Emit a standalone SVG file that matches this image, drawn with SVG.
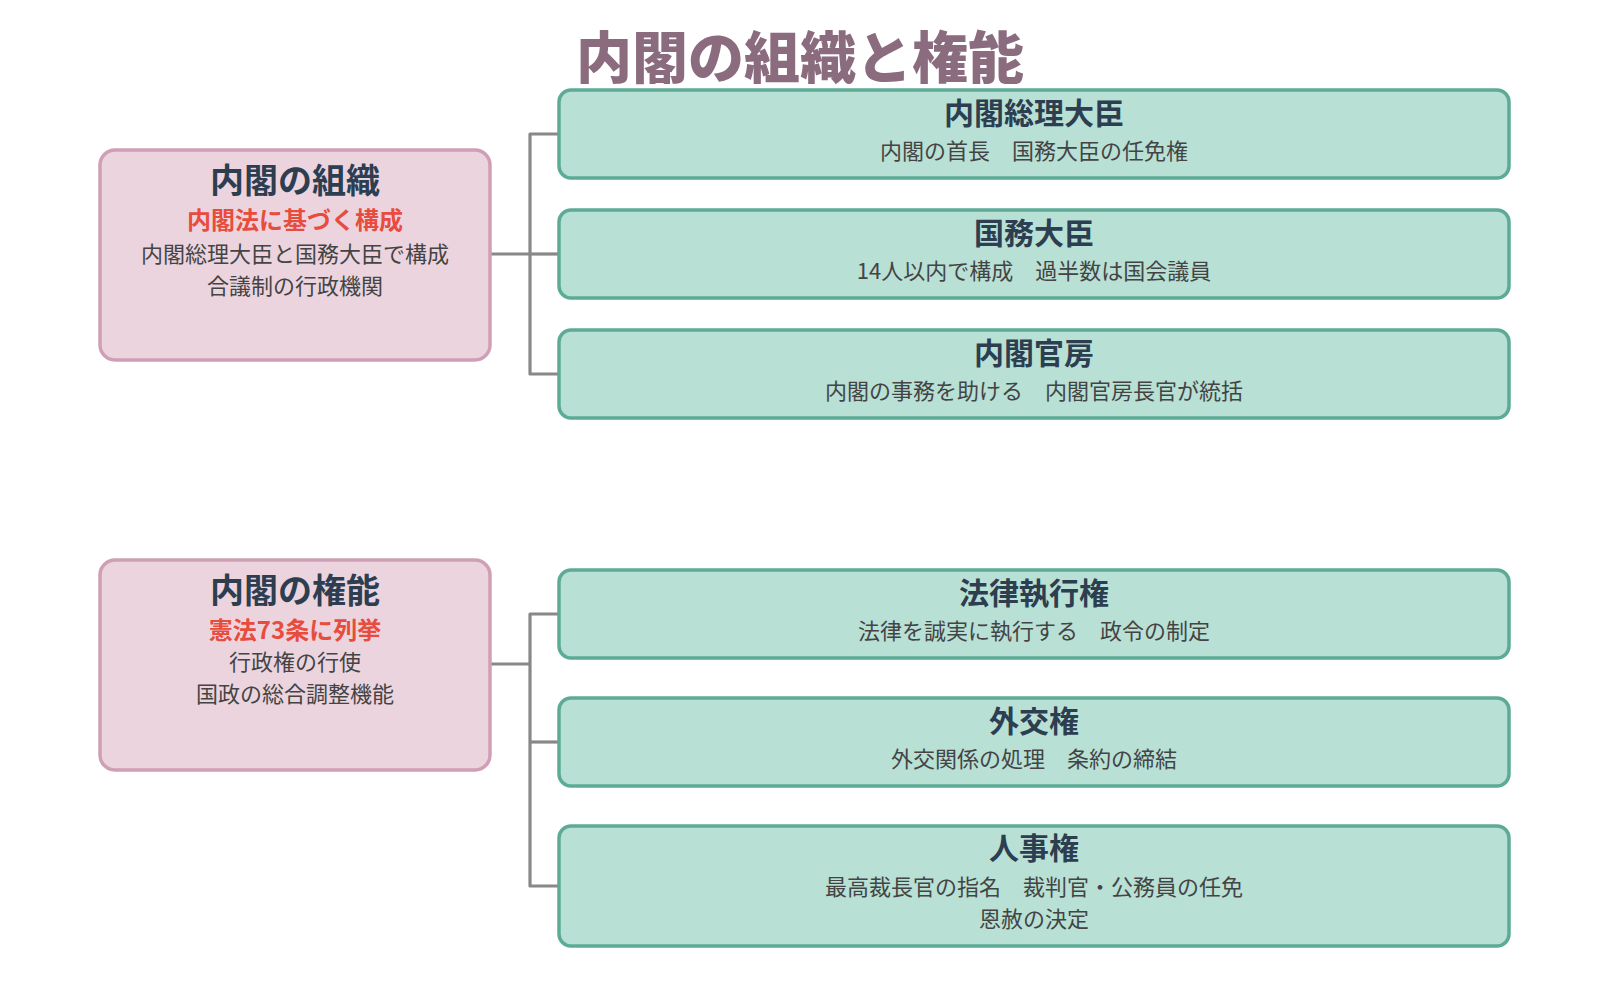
<svg xmlns="http://www.w3.org/2000/svg" width="1600" height="1000" viewBox="0 0 1600 1000">
<defs>
<style>
text{font-family:"Noto Sans CJK JP","Noto Sans",sans-serif;text-anchor:middle}
.title{font-size:56px;font-weight:900;fill:#8b6b7e}
.pbox{fill:#ecd4df;stroke:#cf9fb5;stroke-width:3.5}
.gbox{fill:#b8e0d5;stroke:#5dab97;stroke-width:3.5}
.ph{font-size:34px;font-weight:700;fill:#2c3e50}
.pr{font-size:24px;font-weight:700;fill:#e74c3c}
.pb{font-size:22px;fill:#444}
.gh{font-size:30px;font-weight:700;fill:#2c3e50}
.gb{font-size:22px;fill:#444}
.conn{fill:none;stroke:#888;stroke-width:3.2;stroke-linejoin:round}
</style>
</defs>
<rect width="1600" height="1000" fill="#ffffff"/>
<text class="title" x="800" y="78">内閣の組織と権能</text>
<g id="connectors">
<path class="conn" d="M490,254 H530"/>
<path class="conn" d="M559,134 H530 V374 H559"/>
<path class="conn" d="M530,254 H559"/>
<path class="conn" d="M490,664 H530"/>
<path class="conn" d="M559,614 H530 V886 H559"/>
<path class="conn" d="M530,742 H559"/>
</g>
<g id="org">
<rect class="pbox" x="100" y="150" width="390" height="210" rx="15"/>
<text class="ph" x="295" y="193">内閣の組織</text>
<text class="pr" x="295" y="229">内閣法に基づく構成</text>
<text class="pb" x="295" y="262">内閣総理大臣と国務大臣で構成</text>
<text class="pb" x="295" y="294">合議制の行政機関</text>
</g>
<g id="pm">
<rect class="gbox" x="559" y="90" width="950" height="88" rx="12"/>
<text class="gh" x="1034" y="124">内閣総理大臣</text>
<text class="gb" x="1034" y="159">内閣の首長　国務大臣の任免権</text>
</g>
<g id="ministers">
<rect class="gbox" x="559" y="210" width="950" height="88" rx="12"/>
<text class="gh" x="1034" y="244">国務大臣</text>
<text class="gb" x="1034" y="279">14人以内で構成　過半数は国会議員</text>
</g>
<g id="secretariat">
<rect class="gbox" x="559" y="330" width="950" height="88" rx="12"/>
<text class="gh" x="1034" y="364">内閣官房</text>
<text class="gb" x="1034" y="399">内閣の事務を助ける　内閣官房長官が統括</text>
</g>
<g id="powers">
<rect class="pbox" x="100" y="560" width="390" height="210" rx="15"/>
<text class="ph" x="295" y="603">内閣の権能</text>
<text class="pr" x="295" y="639">憲法73条に列挙</text>
<text class="pb" x="295" y="670">行政権の行使</text>
<text class="pb" x="295" y="702">国政の総合調整機能</text>
</g>
<g id="law">
<rect class="gbox" x="559" y="570" width="950" height="88" rx="12"/>
<text class="gh" x="1034" y="604">法律執行権</text>
<text class="gb" x="1034" y="639">法律を誠実に執行する　政令の制定</text>
</g>
<g id="diplomacy">
<rect class="gbox" x="559" y="698" width="950" height="88" rx="12"/>
<text class="gh" x="1034" y="732">外交権</text>
<text class="gb" x="1034" y="767">外交関係の処理　条約の締結</text>
</g>
<g id="personnel">
<rect class="gbox" x="559" y="826" width="950" height="120" rx="12"/>
<text class="gh" x="1034" y="859">人事権</text>
<text class="gb" x="1034" y="895">最高裁長官の指名　裁判官・公務員の任免</text>
<text class="gb" x="1034" y="927">恩赦の決定</text>
</g>
</svg>
